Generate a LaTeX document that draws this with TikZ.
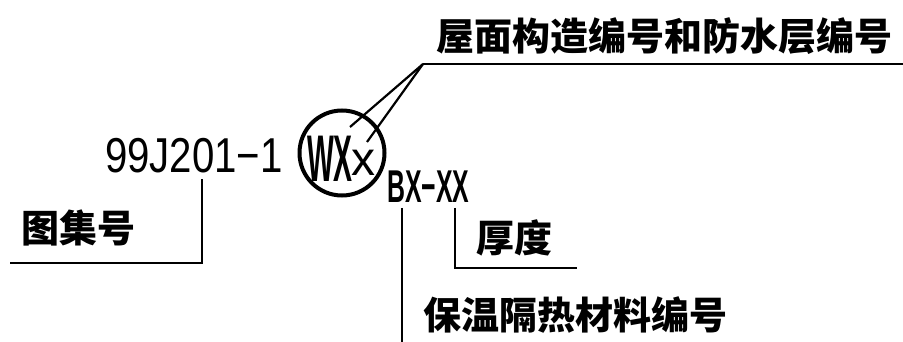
\documentclass[tikz,border=0pt]{standalone}
\usepackage{fontspec}
\newfontfamily\cjk{Noto Sans CJK SC}
\newfontfamily\numfont[FakeStretch=0.82]{Liberation Sans}
\newfontfamily\bxfont[FakeStretch=0.54]{Liberation Sans}
\newfontfamily\wxfont[FakeStretch=0.43]{Liberation Sans}
\newfontfamily\smallxfont{Liberation Sans}
\tikzset{
  cjklabel/.style={inner sep=0pt, anchor=west, font=\cjk\bfseries\fontsize{38}{40}\selectfont},
  latin/.style={inner sep=0pt, anchor=west},
  leader/.style={line width=2.2pt},
  thickleader/.style={line width=2.7pt},
}
\begin{document}
\begin{tikzpicture}[x=1pt,y=-1pt]
\useasboundingbox (0,0) rectangle (903,342);
% texts
\node[cjklabel] (top) at (436,36.5) {屋面构造编号和防水层编号};
\node[cjklabel] (atlas) at (21,228) {图集号};
\node[cjklabel] (thick) at (476,238) {厚度};
\node[cjklabel] (insul) at (423,315) {保温隔热材料编号};
\node[latin, font=\numfont\fontsize{49}{50}\selectfont] (num) at (105,155.5) {99J201−1};
\node[latin, font=\wxfont\bfseries\fontsize{66}{66}\selectfont] (wx) at (307,158.5) {WX};
\node[latin, font=\smallxfont\fontsize{48}{48}\selectfont] (sx) at (351,162.5) {x};
\node[latin, font=\bxfont\bfseries\fontsize{46}{46}\selectfont] (bx) at (387,186.5) {BX−XX};
% circle
\node[draw, circle, line width=4pt, minimum size=85pt, inner sep=0pt] (circ) at (342,153) {};
% coordinates
\coordinate (apex) at (423,64);
\coordinate (topend) at (903,64);
\coordinate (l1) at (350,127);
\coordinate (l2) at (367,142);
\coordinate (a1) at (10,263);
\coordinate (a2) at (202,263);
\coordinate (a3) at (202,179);
\coordinate (t1) at (455,208);
\coordinate (t2) at (455,268);
\coordinate (t3) at (577,268);
\coordinate (i1) at (402,208);
\coordinate (i2) at (402,342);
% connectors
\draw[thickleader] (apex) -- (topend);
\draw[leader] (apex) -- (l1);
\draw[leader] (apex) -- (l2);
\draw[leader] (a1) -- (a2) -- (a3);
\draw[leader] (t1) -- (t2) -- (t3);
\draw[leader] (i1) -- (i2);
\end{tikzpicture}
\end{document}
